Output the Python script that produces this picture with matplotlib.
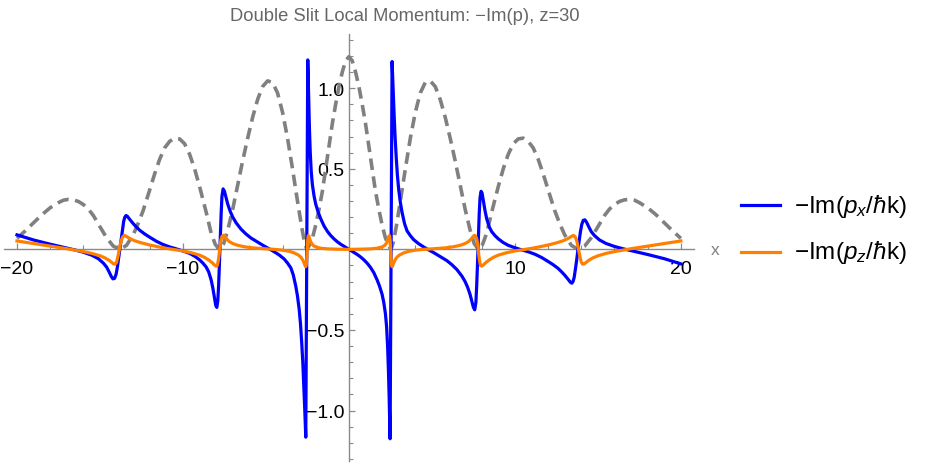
import matplotlib
matplotlib.use('Agg')
import matplotlib.pyplot as plt
from matplotlib.lines import Line2D
import matplotlib.transforms as mtransforms

plt.rcParams['font.family'] = ['Liberation Sans', 'DejaVu Sans']
plt.rcParams['mathtext.fontset'] = 'custom'
plt.rcParams['mathtext.rm'] = 'Liberation Sans'
plt.rcParams['mathtext.it'] = 'Liberation Sans:italic'
plt.rcParams['mathtext.bf'] = 'Liberation Sans:bold'

# ---------------- data ----------------
title = "Double Slit Local Momentum: \u2212Im(p), z=30"
label_px = r"$\mathrm{-Im(}p_{x}/\hbar\mathrm{k)}$"
label_pz = r"$\mathrm{-Im(}p_{z}/\hbar\mathrm{k)}$"

x_major = [-20, -10, 10, 20]
x_major_labels = ["\u221220", "\u221210", "10", "20"]
x_minor = [-18, -16, -14, -12, -8, -6, -4, -2, 2, 4, 6, 8, 12, 14, 16, 18]
y_major = [-1.0, -0.5, 0.5, 1.0]
y_major_labels = ["\u22121.0", "\u22120.5", "0.5", "1.0"]
y_minor = [-1.3, -1.2, -1.1, -0.9, -0.8, -0.7, -0.6, -0.4, -0.3, -0.2, -0.1,
           0.1, 0.2, 0.3, 0.4, 0.6, 0.7, 0.8, 0.9, 1.1, 1.2, 1.3]

# -Im(p_x / hbar k)
px_x = [-20.0, -19.0, -18.0, -17.0, -16.5, -16.0, -15.5, -15.1, -14.8, -14.6,
        -14.45, -14.32, -14.22, -14.12, -14.03, -13.95, -13.87, -13.8, -13.73, -13.65,
        -13.57, -13.5, -13.43, -13.35, -13.2, -13.0, -12.8, -12.6, -12.3, -12.0,
        -11.6, -11.2, -10.8, -10.4, -10.0, -9.6, -9.3, -9.0, -8.8, -8.6,
        -8.45, -8.3, -8.2, -8.1, -8.02, -7.96, -7.9, -7.85, -7.8, -7.75,
        -7.7, -7.65, -7.58, -7.5, -7.4, -7.3, -7.15, -7.0, -6.8, -6.5,
        -6.2, -5.9, -5.5, -5.1, -4.8, -4.5, -4.2, -3.9, -3.7, -3.5,
        -3.35, -3.2, -3.1, -3.0, -2.92, -2.85, -2.78, -2.72, -2.67, -2.63,
        -2.6, -2.48, -2.45, -2.42, -2.38, -2.33, -2.27, -2.2, -2.1, -2.0,
        -1.85, -1.7, -1.5, -1.3, -1.1, -0.9, -0.7, -0.5, -0.3, -0.1,
        0.0,
        0.1, 0.3, 0.5, 0.7, 0.9, 1.1, 1.3, 1.5, 1.7, 1.85,
        2.0, 2.1, 2.2, 2.27, 2.33, 2.38, 2.42, 2.45, 2.48, 2.6,
        2.63, 2.67, 2.72, 2.78, 2.85, 2.92, 3.0, 3.1, 3.2, 3.35,
        3.5, 3.7, 3.9, 4.2, 4.5, 4.8, 5.1, 5.5, 5.9, 6.2,
        6.5, 6.8, 7.0, 7.15, 7.3, 7.4, 7.5, 7.58, 7.65, 7.7,
        7.75, 7.8, 7.85, 7.9, 7.96, 8.02, 8.1, 8.2, 8.3, 8.45,
        8.6, 8.8, 9.0, 9.3, 9.6, 10.0, 10.4, 10.8, 11.2, 11.6,
        12.0, 12.3, 12.6, 12.8, 13.0, 13.2, 13.35, 13.43, 13.5, 13.57,
        13.65, 13.73, 13.8, 13.87, 13.95, 14.03, 14.12, 14.22, 14.32, 14.45,
        14.6, 14.8, 15.1, 15.5, 16.0, 16.5, 17.0, 18.0, 19.0, 20.0]
px_y = [0.09, 0.058, 0.032, 0.008, -0.004, -0.018, -0.036, -0.058, -0.085, -0.11,
        -0.14, -0.168, -0.183, -0.18, -0.155, -0.11, -0.05, 0.0, 0.06, 0.12,
        0.175, 0.2, 0.21, 0.205, 0.185, 0.16, 0.138, 0.118, 0.095, 0.075,
        0.05, 0.03, 0.015, 0.003, -0.01, -0.025, -0.042, -0.065, -0.085, -0.11,
        -0.14, -0.19, -0.24, -0.3, -0.35, -0.36, -0.32, -0.22, -0.08, 0.08,
        0.22, 0.33, 0.375, 0.36, 0.32, 0.28, 0.235, 0.2, 0.165, 0.125,
        0.095, 0.07, 0.045, 0.02, 0.003, -0.015, -0.035, -0.06, -0.085, -0.115,
        -0.16, -0.23, -0.29, -0.37, -0.46, -0.57, -0.7, -0.84, -0.97, -1.08,
        -1.165, 1.175, 1.05, 0.9, 0.75, 0.6, 0.48, 0.4, 0.33, 0.28,
        0.23, 0.19, 0.145, 0.112, 0.086, 0.065, 0.047, 0.032, 0.019, 0.006,
        0.0,
        -0.006, -0.019, -0.032, -0.047, -0.065, -0.086, -0.112, -0.145, -0.19, -0.23,
        -0.28, -0.33, -0.4, -0.48, -0.6, -0.75, -0.9, -1.05, -1.175, 1.165,
        1.08, 0.97, 0.84, 0.7, 0.57, 0.46, 0.37, 0.29, 0.23, 0.16,
        0.115, 0.085, 0.06, 0.035, 0.015, -0.003, -0.02, -0.045, -0.07, -0.095,
        -0.125, -0.165, -0.2, -0.235, -0.28, -0.32, -0.36, -0.375, -0.33, -0.22,
        -0.08, 0.08, 0.22, 0.32, 0.36, 0.35, 0.3, 0.24, 0.19, 0.14,
        0.11, 0.085, 0.065, 0.042, 0.025, 0.01, -0.003, -0.015, -0.03, -0.05,
        -0.075, -0.095, -0.118, -0.138, -0.16, -0.185, -0.205, -0.21, -0.2, -0.175,
        -0.12, -0.06, 0.0, 0.05, 0.11, 0.155, 0.18, 0.183, 0.168, 0.14,
        0.11, 0.085, 0.058, 0.036, 0.018, 0.004, -0.008, -0.032, -0.058, -0.09]

# -Im(p_z / hbar k)
pz_x = [-20.0, -19.0, -18.0, -17.0, -16.0, -15.5, -15.0, -14.7, -14.45, -14.3,
        -14.18, -14.08, -14.0, -13.93, -13.86, -13.8, -13.72, -13.63, -13.53, -13.43,
        -13.3, -13.1, -12.9, -12.5, -12.0, -11.5, -11.0, -10.5, -10.0, -9.5,
        -9.0, -8.7, -8.45, -8.25, -8.1, -8.0, -7.93, -7.87, -7.82, -7.77,
        -7.71, -7.64, -7.56, -7.47, -7.35, -7.2, -7.0, -6.7, -6.3, -5.8,
        -5.0, -4.5, -4.0, -3.6, -3.3, -3.05, -2.88, -2.76, -2.67, -2.61,
        -2.57, -2.54, -2.51, -2.48, -2.45, -2.41, -2.35, -2.27, -2.15, -2.0,
        -1.7, -1.3, -0.7, 0.0,
        0.7, 1.3, 1.7, 2.0, 2.15, 2.27, 2.35, 2.41, 2.45, 2.48,
        2.51, 2.54, 2.57, 2.61, 2.67, 2.76, 2.88, 3.05, 3.3, 3.6,
        4.0, 4.5, 5.0, 5.8, 6.3, 6.7, 7.0, 7.2, 7.35, 7.47,
        7.56, 7.64, 7.71, 7.77, 7.82, 7.87, 7.93, 8.0, 8.1, 8.25,
        8.45, 8.7, 9.0, 9.5, 10.0, 10.5, 11.0, 11.5, 12.0, 12.5,
        12.9, 13.1, 13.3, 13.43, 13.53, 13.63, 13.72, 13.8, 13.86, 13.93,
        14.0, 14.08, 14.18, 14.3, 14.45, 14.7, 15.0, 15.5, 16.0, 17.0,
        18.0, 19.0, 20.0]
pz_y = [0.052, 0.036, 0.02, 0.004, -0.014, -0.025, -0.04, -0.053, -0.068, -0.08,
        -0.09, -0.092, -0.08, -0.05, -0.015, 0.02, 0.055, 0.078, 0.086, 0.082,
        0.073, 0.062, 0.053, 0.04, 0.027, 0.016, 0.006, -0.002, -0.01, -0.021,
        -0.036, -0.05, -0.066, -0.082, -0.097, -0.104, -0.1, -0.07, -0.03, 0.02,
        0.06, 0.082, 0.087, 0.078, 0.062, 0.048, 0.036, 0.025, 0.016, 0.009,
        0.003, 0.0, -0.005, -0.012, -0.022, -0.035, -0.05, -0.07, -0.092, -0.108,
        -0.1, -0.06, 0.0, 0.06, 0.085, 0.082, 0.06, 0.04, 0.024, 0.015,
        0.007, 0.003, 0.001, 0.0,
        0.001, 0.003, 0.007, 0.015, 0.024, 0.04, 0.06, 0.082, 0.085, 0.06,
        0.0, -0.06, -0.1, -0.108, -0.092, -0.07, -0.05, -0.035, -0.022, -0.012,
        -0.005, 0.0, 0.003, 0.009, 0.016, 0.025, 0.036, 0.048, 0.062, 0.078,
        0.087, 0.082, 0.06, 0.02, -0.03, -0.07, -0.1, -0.104, -0.097, -0.082,
        -0.066, -0.05, -0.036, -0.021, -0.01, -0.002, 0.006, 0.016, 0.027, 0.04,
        0.053, 0.062, 0.073, 0.082, 0.086, 0.078, 0.055, 0.02, -0.015, -0.05,
        -0.08, -0.092, -0.09, -0.08, -0.068, -0.053, -0.04, -0.025, -0.014, 0.004,
        0.02, 0.036, 0.052]

# intensity (grey dashed)
int_x = [-20.0, -19.5, -19.0, -18.5, -18.0, -17.5, -17.2, -16.9, -16.6, -16.3,
         -16.0, -15.7, -15.4, -15.0, -14.6, -14.2, -13.8, -13.4, -13.0, -12.7,
         -12.4, -12.0, -11.7, -11.4, -11.1, -10.8, -10.5, -10.2, -9.9, -9.6,
         -9.3, -9.0, -8.6, -8.3, -8.05, -7.8, -7.55, -7.3, -7.0, -6.7,
         -6.4, -6.1, -5.8, -5.5, -5.2, -4.9, -4.6, -4.3, -4.0, -3.7,
         -3.4, -3.1, -2.85, -2.68, -2.53, -2.38, -2.2, -2.0, -1.8, -1.6,
         -1.4, -1.2, -1.0, -0.8, -0.6, -0.4, -0.2, 0.0,
         0.2, 0.4, 0.6, 0.8, 1.0, 1.2, 1.4, 1.6, 1.8, 2.0,
         2.2, 2.38, 2.53, 2.68, 2.85, 3.1, 3.4, 3.7, 4.0, 4.3,
         4.6, 4.9, 5.2, 5.5, 5.8, 6.1, 6.4, 6.7, 7.0, 7.3,
         7.55, 7.8, 8.05, 8.3, 8.6, 9.0, 9.3, 9.6, 9.9, 10.2,
         10.5, 10.8, 11.1, 11.4, 11.7, 12.0, 12.4, 12.7, 13.0, 13.4,
         13.8, 14.2, 14.6, 15.0, 15.4, 15.7, 16.0, 16.3, 16.6, 16.9,
         17.2, 17.5, 18.0, 18.5, 19.0, 19.5, 20.0]
int_y = [0.068, 0.115, 0.165, 0.215, 0.258, 0.29, 0.305, 0.31, 0.307, 0.297,
         0.278, 0.25, 0.21, 0.14, 0.072, 0.02, 0.0, 0.025, 0.09, 0.16,
         0.24, 0.37, 0.47, 0.56, 0.63, 0.67, 0.69, 0.685, 0.655, 0.59,
         0.5, 0.39, 0.23, 0.1, 0.03, 0.0, 0.035, 0.12, 0.25, 0.4,
         0.55, 0.69, 0.82, 0.93, 1.01, 1.045, 1.035, 0.97, 0.85, 0.69,
         0.5, 0.3, 0.14, 0.045, 0.0, 0.025, 0.07, 0.15, 0.25, 0.36,
         0.5, 0.64, 0.78, 0.9, 1.01, 1.1, 1.17, 1.195,
         1.17, 1.1, 1.01, 0.9, 0.78, 0.64, 0.5, 0.36, 0.25, 0.15,
         0.07, 0.025, 0.0, 0.045, 0.14, 0.3, 0.5, 0.69, 0.85, 0.97,
         1.035, 1.045, 1.01, 0.93, 0.82, 0.69, 0.55, 0.4, 0.25, 0.12,
         0.035, 0.0, 0.03, 0.1, 0.23, 0.39, 0.5, 0.59, 0.655, 0.685,
         0.69, 0.67, 0.63, 0.56, 0.47, 0.37, 0.24, 0.16, 0.09, 0.025,
         0.0, 0.02, 0.072, 0.14, 0.21, 0.25, 0.278, 0.297, 0.307, 0.31,
         0.305, 0.29, 0.258, 0.215, 0.165, 0.115, 0.068]

# ---------------- figure ----------------
BLUE = '#0000FF'
ORANGE = '#FF8000'
GREY = '#808080'
AXC = '#8a8a8a'

fig = plt.figure(figsize=(9.28, 4.64), dpi=100)
ax = fig.add_axes([0.004, 0.005, 0.744, 0.9196])
ax.set_xlim(-20.8, 20.8)
ax.set_ylim(-1.311, 1.336)

ax.plot(int_x, int_y, color=GREY, lw=2.6, dashes=(3.2, 1.8), zorder=2)
ax.plot(px_x, px_y, color=BLUE, lw=2.3, zorder=3, solid_joinstyle='round')
ax.plot(pz_x, pz_y, color=ORANGE, lw=2.3, zorder=4, solid_joinstyle='round')

for s in ['top', 'right']:
    ax.spines[s].set_visible(False)
ax.spines['bottom'].set_position(('data', 0))
ax.spines['left'].set_position(('data', 0))
for s in ['bottom', 'left']:
    ax.spines[s].set_color(AXC)
    ax.spines[s].set_linewidth(1.0)
    ax.spines[s].set_zorder(1)

ax.set_xticks(x_major)
ax.set_xticklabels(x_major_labels)
ax.set_xticks(x_minor, minor=True)
ax.set_yticks(y_major)
ax.set_yticklabels(y_major_labels)
ax.set_yticks(y_minor, minor=True)
ax.tick_params(axis='both', which='major', direction='in', length=4.5, width=0.9,
               color=AXC, labelsize=14, labelcolor='black')
ax.tick_params(axis='both', which='minor', direction='in', length=2.8, width=0.8,
               color=AXC)
ax.tick_params(axis='x', which='major', pad=7.5)
ax.tick_params(axis='y', which='major', pad=3)
ax.patch.set_alpha(0)

trans = mtransforms.blended_transform_factory(ax.transAxes, ax.transData)
ax.text(1.0305, 0, 'x', transform=trans, ha='center', va='center',
        fontsize=12.5, color=GREY)

fig.text(0.4365, 0.983, title, ha='center', va='top', fontsize=13.2, color='#666666')

# legend
W, H = 928.0, 464.0
for yy, col, lab in [(206, BLUE, label_px), (253, ORANGE, label_pz)]:
    fig.add_artist(Line2D([740.7 / W, 780.0 / W], [1 - yy / H, 1 - yy / H],
                          color=col, lw=2.3, transform=fig.transFigure))
    fig.text(794 / W, 1 - yy / H, lab, ha='left', va='center', fontsize=17.5,
             color='black')

fig.savefig('out.png', dpi=100)
